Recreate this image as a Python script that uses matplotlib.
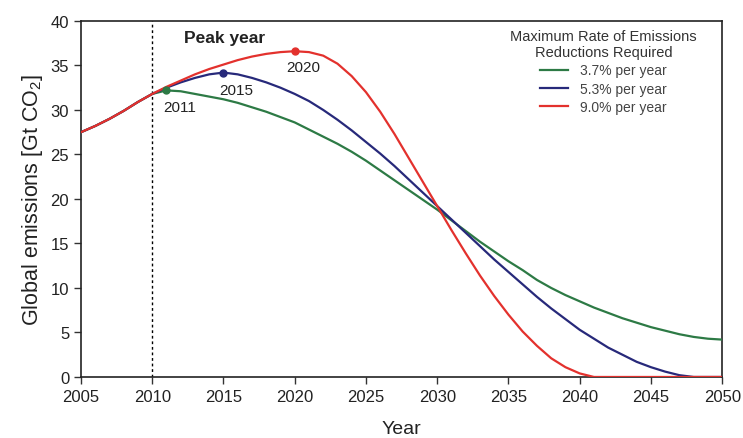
import matplotlib
matplotlib.use('Agg')
import matplotlib.pyplot as plt

plt.rcParams['font.family'] = ['Liberation Sans', 'DejaVu Sans']
plt.rcParams['mathtext.default'] = 'regular'

# emissions paths, Gt CO2 per year
years = list(range(2005, 2051))
common = [27.5, 28.2, 29.0, 29.9, 30.9]  # 2005-2009, shared by all paths

green = common + [31.8, 32.2, 32.1, 31.8, 31.5, 31.2, 30.8, 30.3, 29.8, 29.2,
                  28.6, 27.8, 27.0, 26.2, 25.3, 24.3, 23.2, 22.1, 21.0, 19.9,
                  18.8, 17.6, 16.4, 15.2, 14.1, 13.0, 12.0, 10.9, 10.0, 9.2,
                  8.5, 7.8, 7.2, 6.6, 6.1, 5.6, 5.2, 4.8, 4.5, 4.3, 4.2]
blue = common + [31.8, 32.5, 33.1, 33.6, 34.0, 34.2, 34.0, 33.6, 33.1, 32.5,
                 31.8, 31.0, 30.0, 28.9, 27.7, 26.4, 25.1, 23.7, 22.2, 20.7,
                 19.2, 17.7, 16.2, 14.7, 13.2, 11.8, 10.4, 9.0, 7.7, 6.5,
                 5.3, 4.3, 3.3, 2.5, 1.7, 1.1, 0.6, 0.2, 0.0, 0.0, 0.0]
red = common + [31.8, 32.6, 33.3, 34.0, 34.6, 35.1, 35.6, 36.0, 36.3, 36.5,
                36.6, 36.5, 36.1, 35.2, 33.8, 32.0, 29.8, 27.3, 24.6, 21.9,
                19.2, 16.5, 13.9, 11.4, 9.1, 7.0, 5.1, 3.5, 2.1, 1.1,
                0.4, 0.0, 0.0, 0.0, 0.0, 0.0, 0.0, 0.0, 0.0, 0.0, 0.0]

labels = ['3.7% per year', '5.3% per year', '9.0% per year']
colors = ['#2d7a45', '#27297a', '#e3312d']
peak_years = [2011, 2015, 2020]

fig = plt.figure(figsize=(7.43, 4.39), dpi=100)
ax = fig.add_axes([0.109, 0.139, 0.863, 0.811])

ax.axvline(2010, color='black', lw=1, ls=(0, (2, 2)))

label_offsets = [(-0.2, -1.9), (-0.3, -2.0), (-0.6, -1.8)]
for series, lab, c, py, off in zip([green, blue, red], labels, colors, peak_years, label_offsets):
    ax.plot(years, series, color=c, lw=1.6, label=lab, zorder=3)
    pv = series[years.index(py)]
    ax.plot(py, pv, 'o', color=c, ms=5, zorder=4)
    ax.text(py + off[0], pv + off[1], str(py), fontsize=11, color='#222222',
            ha='left', va='center')

ax.text(2012.2, 38.1, 'Peak year', fontsize=12.5, fontweight='bold', color='#222222',
        ha='left', va='center')

ax.set_xlim(2005, 2050)
ax.set_ylim(0, 40)
ax.set_xticks(range(2005, 2051, 5))
ax.set_yticks(range(0, 41, 5))
ax.tick_params(axis='both', labelsize=12, direction='out', length=5,
               width=1, colors='#333333', labelcolor='#222222')
ax.tick_params(top=False, right=False)
for s in ax.spines.values():
    s.set_linewidth(1.2)
    s.set_color('#222222')

ax.set_xlabel('Year', fontsize=14, labelpad=12, color='#222222')
ax.set_ylabel('Global emissions [Gt CO$_2$]', fontsize=15.5, labelpad=4, color='#222222')

leg = ax.legend(title='Maximum Rate of Emissions\nReductions Required',
                loc='upper right', bbox_to_anchor=(0.98, 1.013), frameon=False,
                fontsize=10, title_fontsize=10.5, handlelength=2.0, handletextpad=0.9,
                labelspacing=0.32)
leg._legend_box.align = 'center'
for t in leg.get_texts():
    t.set_color('#444444')
leg.get_title().set_color('#333333')
leg.get_title().set_multialignment('center')

fig.savefig('out.png', dpi=100)
